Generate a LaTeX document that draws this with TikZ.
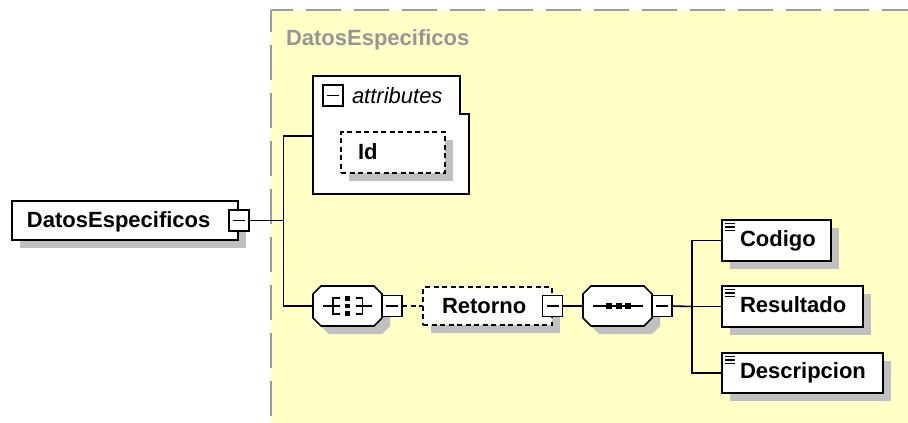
\documentclass[tikz,border=0pt]{standalone}
\usepackage{fontspec}
\setmainfont{Liberation Sans}
\usetikzlibrary{shadows,calc}
\definecolor{bgyellow}{RGB}{255,255,198}
\definecolor{frameg}{RGB}{155,155,155}
\definecolor{titleg}{RGB}{150,150,150}
\definecolor{shadowg}{RGB}{192,192,192}
\begin{document}
\begin{tikzpicture}[x=1pt,y=-1pt, line width=1.7pt,
  every node/.style={outer sep=0pt},
  txt/.style={anchor=base west, inner sep=0pt, font=\fontsize{22}{26}\selectfont\bfseries},
  sh/.style={drop shadow={shadow xshift=8pt,shadow yshift=-8pt,fill=shadowg,opacity=1}},
  elem/.style={draw, fill=white, sh, anchor=north west, inner sep=0pt},
  optbox/.style={elem, dash pattern=on 5pt off 3.5pt},
  compbox/.style={minimum width=69pt, minimum height=40pt, inner sep=0pt},
  minusbox/.style={draw, fill=white, minimum width=20pt, minimum height=21pt, inner sep=0pt,
     path picture={\draw[line width=1.5pt] ([xshift=4pt]path picture bounding box.west) -- ([xshift=-4pt]path picture bounding box.east);}},
  conn/.style={line width=1.6pt},
  icon/.style={line width=1.4pt}
]
\useasboundingbox (0,0) rectangle (908,423);
% background region
\fill[bgyellow] (271,10) rectangle (908,423);
\draw[frameg, line width=2pt, dash pattern=on 35pt off 13pt, dash phase=13pt] (271,10) -- (908,10);
\draw[frameg, line width=2pt, dash pattern=on 35pt off 13pt, dash phase=13pt] (271,10) -- (271,423);
\node[txt, text=titleg] (title) at (286,45) {DatosEspecificos};

% root element
\node[elem, minimum width=226pt, minimum height=39pt] (root) at (12,201) {};
\node[txt] (roottxt) at (27,227) {DatosEspecificos};
\node[minusbox] (rootm) at (239,220.5) {};

% attributes group
\draw[fill=white] (313,76) -- (460,76) -- (460,114) -- (469,114) -- (469,194) -- (313,194) -- cycle;
\coordinate (attrL) at (313,136);
\node[minusbox] (attrm) at (333,95.5) {};
\node[anchor=base west, inner sep=0pt, font=\fontsize{22}{26}\selectfont\itshape] (attrtxt) at (352,103) {attributes};
\node[optbox, minimum width=104pt, minimum height=41pt] (idbox) at (341,132) {};
\node[txt] (idtxt) at (358,159) {Id};

% compositor octagons (choice and sequence)
\node[compbox] (choice) at (347.5,306) {};
\node[compbox] (seq) at (617.5,306) {};
\foreach \cx in {347.5,617.5}{
  \fill[shadowg, shift={(\cx+8,314)}] (-26.5,-20) -- (26.5,-20) -- (34.5,-12) -- (34.5,12) -- (26.5,20) -- (-26.5,20) -- (-34.5,12) -- (-34.5,-12) -- cycle;
  \draw[fill=white, shift={(\cx,306)}] (-26.5,-20) -- (26.5,-20) -- (34.5,-12) -- (34.5,12) -- (26.5,20) -- (-26.5,20) -- (-34.5,12) -- (-34.5,-12) -- cycle;
}
% choice icon
\draw[icon] (323,306) -- (333,306);
\draw[icon] (339.5,298) -- (333,298) -- (333,314) -- (339.5,314);
\draw[icon] (333,306) -- (339.5,306);
\foreach \yy in {298.5,306,313.5} \fill (345,\yy-2.3) rectangle (349.6,\yy+2.3);
\draw[icon] (356,298) -- (362.5,298) -- (362.5,314) -- (356,314);
\draw[icon] (356,306) -- (372,306);
\node[minusbox] (choicem) at (392,306) {};

% Retorno
\node[optbox, minimum width=129pt, minimum height=38pt] (ret) at (423,287) {};
\node[txt] (rettxt) at (442,313) {Retorno};
\node[minusbox] (retm) at (552.5,306) {};

% sequence icon
\draw[icon] (593,306) -- (643,306);
\foreach \xx in {609,618.5,628} \fill (\xx-3,303) rectangle (\xx+3,309);
\node[minusbox] (seqm) at (662,306) {};

% child elements
\node[elem, minimum width=109pt, minimum height=41pt] (cod) at (722,220) {};
\node[txt] (codtxt) at (740,246) {Codigo};
\node[elem, minimum width=141pt, minimum height=41pt] (res) at (722,286) {};
\node[txt] (restxt) at (740,312) {Resultado};
\node[elem, minimum width=161pt, minimum height=40pt] (desc) at (722,353) {};
\node[txt] (desctxt) at (740,378) {Descripcion};
\foreach \n in {cod,res,desc}{
  \foreach \dy in {3.5,7,10.5}
    \draw[icon] ([shift={(3,\dy)}]\n.north west) -- ++(10,0);
}

% connectors
\coordinate (j1) at (283.5,220.5);
\coordinate (jt) at (283.5,136);
\coordinate (jb) at (283.5,306);
\coordinate (j2) at (692,306.5);
\draw[conn] (rootm.east) -- (j1);
\draw[conn] (attrL) -- (jt) -- (jb) -- (choice.west);
\draw[conn, dash pattern=on 5pt off 3.5pt] (choicem.east) -- (ret.west);
\draw[conn] (retm.east) -- (seq.west);
\draw[conn] (seqm.east) -- (j2);
\draw[conn] (cod.west) -- (cod.west -| j2) -- (desc.west -| j2) -- (desc.west);
\draw[conn] (j2) -- (res.west);
\end{tikzpicture}
\end{document}
